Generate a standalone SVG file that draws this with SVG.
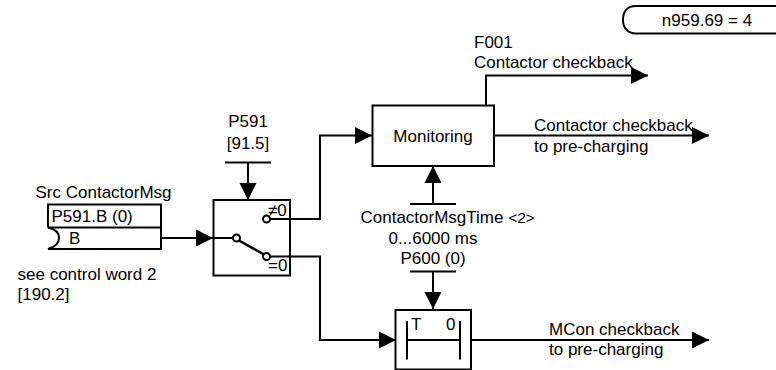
<svg xmlns="http://www.w3.org/2000/svg" width="776" height="370" viewBox="0 0 776 370">
<style>
.b{fill:none;stroke:#000;stroke-width:2}
.c{fill:#fff;stroke:#000;stroke-width:2}
text{font-family:"Liberation Sans",Arial,sans-serif;font-size:17px;fill:#000}
.m{text-anchor:middle}
</style>
<defs>
<path id="ar" d="M0 0L-17 -8.500V8.500Z" fill="#000"/>
</defs>
<g id="connectors">
<path class="b" d="M161 238H236"/><use href="#ar" x="213" y="238"/>
<path class="b" d="M270 219H320V135.500H372"/><use href="#ar" x="372" y="135.500"/>
<path class="b" d="M270 256.500H320V340H396"/><use href="#ar" x="396" y="340"/>
<path class="b" d="M225 162.500H271M248 162.500V200"/><use href="#ar" transform="translate(248 200) rotate(90)"/>
<path class="b" d="M486 105V75.500H648"/><use href="#ar" x="648" y="75.500"/>
<path class="b" d="M494 135.500H709"/><use href="#ar" x="709" y="135.500"/>
<path class="b" d="M410 204H456M433 204V166"/><use href="#ar" transform="translate(433 166) rotate(-90)"/>
<path class="b" d="M410 271.500H456M433 271.500V309"/><use href="#ar" transform="translate(433 309) rotate(90)"/>
<path class="b" d="M471 340H709"/><use href="#ar" x="709" y="340"/>
</g>
<g id="source">
<path class="b" d="M48 227.500V204.500H161V249H48C55 247 59 243 59 238C59 233 55 229 48 227.500H161"/>
<text x="51.500" y="221.500">P591.B (0)</text>
<text x="69" y="243.500">B</text>
<text x="35.500" y="197.500">Src ContactorMsg</text>
<text x="17.500" y="280">see control word 2</text>
<text x="17.500" y="300">[190.2]</text>
</g>
<g id="switch">
<rect class="b" x="213.500" y="200" width="76.500" height="75.500"/>
<path d="M238 240L265 255" fill="none" stroke="#000" stroke-width="2.500"/>
<circle class="c" cx="236.500" cy="238" r="3.500"/>
<circle class="c" cx="266.500" cy="219" r="3.500"/>
<circle class="c" cx="266.500" cy="256.500" r="3.500"/>
<text x="268" y="216">≠0</text>
<text x="268" y="270.500">=0</text>
<text class="m" x="248" y="126.500">P591</text>
<text class="m" x="248" y="148.500">[91.5]</text>
</g>
<g id="monitoring">
<rect class="b" x="372.500" y="105.500" width="121.500" height="60.500"/>
<text class="m" x="433" y="141.500">Monitoring</text>
</g>
<g id="timer">
<rect class="b" x="395.500" y="310" width="75.500" height="59.500"/>
<path class="b" d="M407 321V359.500M460 321V359.500M407 340H460"/>
<text x="411" y="329.500">T</text>
<text x="446" y="329.500">0</text>
</g>
<g id="labels">
<text x="474" y="48">F001</text>
<text x="474" y="68">Contactor checkback</text>
<text x="534" y="131">Contactor checkback</text>
<text x="534" y="151.500">to pre-charging</text>
<text x="360.500" y="222.500">ContactorMsgTime <tspan font-size="15.500">&lt;2&gt;</tspan></text>
<text class="m" x="433" y="243.500">0...6000 ms</text>
<text class="m" x="433" y="263.500">P600 (0)</text>
<text x="549" y="335">MCon checkback</text>
<text x="549" y="355">to pre-charging</text>
</g>
<g id="status">
<path class="b" d="M776 33.500H636C627 33.500 623 27 623 20C623 12 627 6 636 6H776"/>
<text class="m" x="707" y="26">n959.69 = 4</text>
</g>
</svg>
